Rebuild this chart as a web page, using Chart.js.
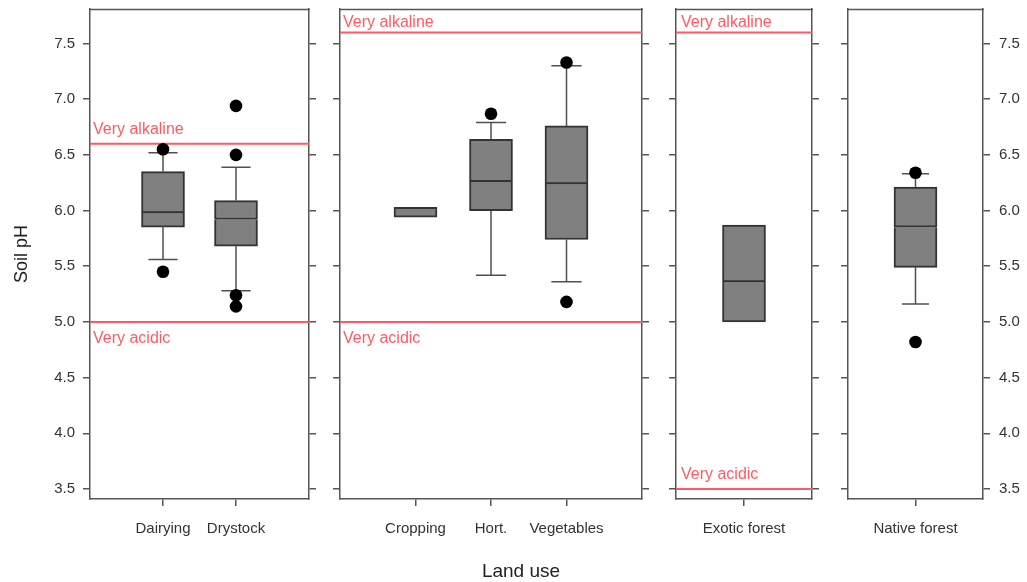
<!DOCTYPE html>
<html>
<head>
<meta charset="utf-8">
<script src="https://cdn.jsdelivr.net/npm/chart.js@4.4.1/dist/chart.umd.min.js"></script>
<style>
  html, body { margin:0; padding:0; background:#fff; }
  body { width:1027px; height:582px; position:relative; overflow:hidden; font-family:"Liberation Sans", Arial, sans-serif; }
  canvas { position:absolute; top:0; }
  #xtitle { position:absolute; left:421px; width:200px; top:561px; text-align:center; font-size:19px; line-height:19px; color:#222; }
</style>
</head>
<body>
<canvas id="p0" width="320" height="582" style="left:0px"></canvas>
<canvas id="p1" width="324" height="582" style="left:329px"></canvas>
<canvas id="p2" width="158" height="582" style="left:665px"></canvas>
<canvas id="p3" width="190" height="582" style="left:837px"></canvas>
<div id="xtitle"></div>
<script>
// ---------------- data ----------------
const categories  = ['Dairying', 'Drystock', 'Cropping', 'Hort.', 'Vegetables', 'Exotic forest', 'Native forest'];
const panelOf     = [0, 0, 1, 1, 1, 2, 3];
const whiskerLow  = [5.56, 5.28, null, 5.42, 5.36, null, 5.16];
const q1          = [5.85, 5.68, 5.94, 6.00, 5.74, 5.00, 5.49];
const median      = [5.98, 5.92, 5.94, 6.26, 6.24, 5.36, 5.85];
const q3          = [6.35, 6.09, 6.03, 6.64, 6.76, 5.87, 6.21];
const whiskerHigh = [6.52, 6.39, null, 6.79, 7.30, null, 6.33];
const outliers    = [[6.55, 5.45], [6.94, 6.50, 5.24, 5.14], [], [6.87], [7.33, 5.18], [], [6.34, 4.82]];
const yTicks      = [3.5, 4.0, 4.5, 5.0, 5.5, 6.0, 6.5, 7.0, 7.5];
const alkalineLevel = [6.6, 7.6, 7.6, null];
const acidicLevel   = [5.0, 5.0, 3.5, null];
const alkalineText  = 'Very alkaline';
const acidicText    = 'Very acidic';
const yTitle = 'Soil pH';
const xTitle = 'Land use';

// ---------------- style ----------------
const Y_MIN = 3.41, Y_MAX = 7.81;
const RED = '#ff5a64';
const FRAME = '#555555';
const TICKCOL = '#333333';
const FONT = '"Liberation Sans", Arial, sans-serif';
const layoutBox = [
  { axL: 90, axR: 11 },
  { axL: 11, axR: 11 },
  { axL: 11, axR: 11 },
  { axL: 11, axR: 44 }
];
// label offsets: [alkaline, acidic]
const refStyle = [
  [{ dx: 3, dy: -10 }, { dx: 3, dy: 21 }],
  [{ dx: 3, dy: -5 },  { dx: 3, dy: 21 }],
  [{ dx: 5, dy: -5 },  { dx: 5, dy: -9.5 }],
  [null, null]
];

Chart.defaults.font.family = FONT;
Chart.defaults.animation = false;

document.getElementById('xtitle').textContent = xTitle;

const refPlugin = {
  id: 'refLabels',
  afterDatasetsDraw(chart, args, opts) {
    const { ctx, chartArea, scales } = chart;
    const y = scales.y;
    ctx.save();
    ctx.font = '16px ' + FONT;
    ctx.fillStyle = RED;
    ctx.textAlign = 'left';
    ctx.textBaseline = 'alphabetic';
    (opts.items || []).forEach(it => {
      const py = y.getPixelForValue(it.value);
      ctx.fillText(it.text, chartArea.left + it.dx, py + it.dy);
    });
    ctx.strokeStyle = FRAME;
    ctx.lineWidth = 1.5;
    ctx.beginPath();
    ctx.moveTo(chartArea.left - 0.75, Math.round(chartArea.top) + 0.5);
    ctx.lineTo(chartArea.right + 0.75, Math.round(chartArea.top) + 0.5);
    ctx.stroke();
    ctx.restore();
  }
};

function resetPad(s) { s.paddingTop = 0; s.paddingBottom = 0; s.paddingLeft = 0; s.paddingRight = 0; }

function yAxis(position, width, showLabels, showTitle) {
  return {
    type: 'linear', position, min: Y_MIN, max: Y_MAX,
    afterBuildTicks: s => { s.ticks = yTicks.map(v => ({ value: v })); },
    afterFit: s => { s.width = width; resetPad(s); },
    grid: { drawOnChartArea: false, drawTicks: true, tickLength: 7, color: FRAME, lineWidth: 1.5, offset: false },
    border: { display: true, color: FRAME, width: 1.5 },
    ticks: {
      display: showLabels, padding: position === 'left' ? 8 : 9,
      color: TICKCOL, font: { size: 15 },
      callback: v => Number(v).toFixed(1)
    },
    title: { display: showTitle, text: yTitle, color: '#222', font: { size: 18 }, padding: { top: 11, bottom: 0 } }
  };
}

function buildPanel(p) {
  const idx = categories.map((_, i) => i).filter(i => panelOf[i] === p);
  const n = idx.length;
  const lower = idx.map((i, j) => ({ x: j + 1, y: [q1[i], median[i]] }));
  const upper = idx.map((i, j) => ({ x: j + 1, y: [median[i], q3[i]] }));
  const whisk = [];
  idx.forEach((i, j) => {
    const x = j + 1;
    if (whiskerHigh[i] != null) {
      whisk.push({ x, y: q3[i] }, { x, y: whiskerHigh[i] }, { x, y: null },
                 { x: x - 0.2, y: whiskerHigh[i] }, { x: x + 0.2, y: whiskerHigh[i] }, { x, y: null });
    }
    if (whiskerLow[i] != null) {
      whisk.push({ x, y: q1[i] }, { x, y: whiskerLow[i] }, { x, y: null },
                 { x: x - 0.2, y: whiskerLow[i] }, { x: x + 0.2, y: whiskerLow[i] }, { x, y: null });
    }
  });
  const pts = [];
  idx.forEach((i, j) => outliers[i].forEach(v => pts.push({ x: j + 1, y: v })));

  const datasets = [
    { type: 'scatter', data: pts, order: 0, pointRadius: 6.3, pointHoverRadius: 6.3,
      backgroundColor: '#000', borderColor: '#000', borderWidth: 0 }
  ];
  const items = [];
  const refLines = [[alkalineLevel[p], alkalineText, refStyle[p][0]], [acidicLevel[p], acidicText, refStyle[p][1]]];
  refLines.forEach(([lvl, txt, st]) => {
    if (lvl == null) return;
    datasets.push({ type: 'line', data: [{ x: 0, y: lvl }, { x: n + 1, y: lvl }], order: 1,
      borderColor: RED, borderWidth: 2, pointRadius: 0, fill: false });
    items.push({ value: lvl, text: txt, dx: st.dx, dy: st.dy });
  });
  datasets.push(
    { type: 'bar', data: upper, order: 2, grouped: false, barThickness: 43,
      backgroundColor: '#808080', borderColor: '#333333', borderWidth: 2, borderSkipped: false },
    { type: 'bar', data: lower, order: 3, grouped: false, barThickness: 43,
      backgroundColor: '#808080', borderColor: '#333333', borderWidth: 2, borderSkipped: 'top' },
    { type: 'line', data: whisk, order: 4, borderColor: '#505050', borderWidth: 1.5,
      pointRadius: 0, spanGaps: false, fill: false }
  );

  const lb = layoutBox[p];
  new Chart(document.getElementById('p' + p), {
    type: 'bar',
    data: { datasets },
    plugins: [refPlugin],
    options: {
      responsive: false, maintainAspectRatio: false, devicePixelRatio: 1,
      animation: false, events: [],
      layout: { padding: { top: 9, left: 0, right: 0, bottom: 0 } },
      plugins: { legend: { display: false }, tooltip: { enabled: false }, refLabels: { items } },
      scales: {
        x: {
          type: 'linear', position: 'bottom', min: 0, max: n + 1, offset: false,
          afterBuildTicks: s => { s.ticks = idx.map((_, j) => ({ value: j + 1 })); },
          afterFit: s => { s.height = 582 - 499; resetPad(s); },
          grid: { drawOnChartArea: false, drawTicks: true, tickLength: 7, color: FRAME, lineWidth: 1.5, offset: false },
          border: { display: true, color: FRAME, width: 1.5 },
          ticks: { autoSkip: false, maxRotation: 0, minRotation: 0, padding: 14, color: TICKCOL, font: { size: 15 },
                   callback: v => categories[idx[Math.round(v) - 1]] }
        },
        y: yAxis('left', lb.axL, p === 0, p === 0),
        y2: yAxis('right', lb.axR, p === 3, false)
      }
    }
  });
}

[0, 1, 2, 3].forEach(buildPanel);
</script>
</body>
</html>
